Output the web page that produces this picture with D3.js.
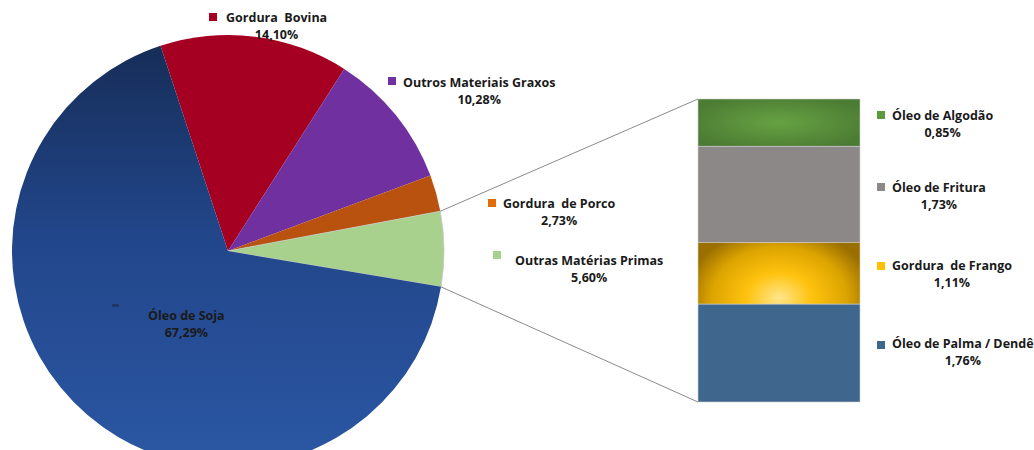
<!DOCTYPE html>
<html>
<head>
<meta charset="utf-8">
<script src="https://cdn.jsdelivr.net/npm/d3@7"></script>
<style>
  body { margin: 0; background: #fff; }
  text { font-family: "Open Sans", Lato, sans-serif; font-weight: bold; font-size: 12.5px; fill: #1a1a1a; white-space: pre; }
</style>
</head>
<body>
<div id="chart-area"></div>
<script>
// pie data, clockwise from Gordura Bovina
var pieNames = ["Gordura  Bovina", "Outros Materiais Graxos", "Gordura  de Porco", "Outras Matérias Primas", "Óleo de Soja"];
var pieValues = [14.10, 10.28, 2.73, 5.60, 67.29];
var pieLabels = ["14,10%", "10,28%", "2,73%", "5,60%", "67,29%"];

// breakdown of "Outras Matérias Primas", top to bottom
var barNames = ["Óleo de Algodão", "Óleo de Fritura", "Gordura  de Frango", "Óleo de Palma / Dendê"];
var barValues = [0.85, 1.73, 1.11, 1.76];
var barLabels = ["0,85%", "1,73%", "1,11%", "1,76%"];

var W = 1034, H = 450;
var cx = 228, cy = 251, R = 216;

var svg = d3.select("#chart-area")
    .append("svg")
    .attr("width", W)
    .attr("height", H);

var defs = svg.append("defs");

function addStops(g, stops) {
    stops.forEach((s) => { g.append("stop").attr("offset", s[0]).attr("stop-color", s[1]); });
}

var lg = defs.append("linearGradient").attr("id", "gSoja")
    .attr("x1", 0).attr("y1", 0).attr("x2", 0).attr("y2", 1);
addStops(lg, [[0, "#162d58"], [0.45, "#22468a"], [1, "#2b57a4"]]);

var rp = defs.append("radialGradient").attr("id", "gPorco")
    .attr("gradientUnits", "userSpaceOnUse")
    .attr("cx", cx).attr("cy", cy).attr("r", R).attr("fx", cx).attr("fy", cy);
addStops(rp, [[0, "#c55a11"], [0.75, "#ea6e15"], [1, "#b8520e"]]);

var ra = defs.append("radialGradient").attr("id", "gAlg")
    .attr("cx", 0.5).attr("cy", 0.5).attr("r", 0.6);
addStops(ra, [[0, "#66a243"], [1, "#4c7b33"]]);

var rf = defs.append("radialGradient").attr("id", "gFrango")
    .attr("cx", 0.5).attr("cy", 0.9).attr("r", 1)
    .attr("gradientTransform", "translate(0.5,0.9) scale(0.58,1.15) translate(-0.5,-0.9)");
addStops(rf, [[0, "#ffe68c"], [0.35, "#ffc20e"], [0.72, "#dca400"], [1, "#9a6f00"]]);

var pieFills = ["#a50021", "#7030a0", "url(#gPorco)", "#a9d18e", "url(#gSoja)"];
var pieMarkers = ["#a50021", "#7030a0", "#e36c0a", "#a9d18e", "#1f3864"];
var barFills = ["url(#gAlg)", "#8c8888", "url(#gFrango)", "#3f668c"];
var barMarkers = ["#5b9a3b", "#8c8888", "#ffc000", "#3f668c"];

var startA = -18.2 * Math.PI / 180;
var pie = d3.pie().sort(null).value((d) => d)
    .startAngle(startA).endAngle(startA + 2 * Math.PI);
var arcs = pie(pieValues);
var arc = d3.arc().innerRadius(0).outerRadius(R);

var g = svg.append("g").attr("transform", "translate(" + cx + "," + cy + ")");
g.selectAll("path").data(arcs).enter()
    .append("path")
    .attr("d", arc)
    .attr("fill", (d, i) => pieFills[i])
    .attr("stroke", (d, i) => i == 3 ? "#c8c8c8" : "none")
    .attr("stroke-width", 0.8);

// stacked bar
var total = d3.sum(barValues);
var cum = d3.cumsum(barValues);
var y = d3.scaleLinear().domain([0, total]).range([99, 402]);
var x = d3.scaleLinear().domain([0, 1]).range([698, 860]);

svg.selectAll(".seg").data(barValues).enter()
    .append("rect")
    .attr("class", "seg")
    .attr("x", x(0))
    .attr("width", x(1) - x(0))
    .attr("y", (d, i) => y(cum[i] - d))
    .attr("height", (d) => y(d) - y(0))
    .attr("fill", (d, i) => barFills[i])
    .attr("stroke", "#d0d0d0")
    .attr("stroke-width", 0.6);

// connector lines from the green slice to the bar
var green = arcs[3];
[[green.startAngle, 0], [green.endAngle, total]].forEach((p) => {
    svg.append("line")
        .attr("x1", cx + R * Math.sin(p[0]))
        .attr("y1", cy - R * Math.cos(p[0]))
        .attr("x2", x(0))
        .attr("y2", y(p[1]))
        .attr("stroke", "#8a8a8a")
        .attr("stroke-width", 1);
});

// labels: [marker x, marker y, text start x, name baseline]
var pieLabelPos = [[209, 13, 226, 22], [388, 77, 403, 87], [488, 199, 503, 208], [493, 251, 515, 265], [112, 304, 148, 320]];
var barLabelPos = [[877, 111, 892, 120], [877, 183, 892, 192], [877, 262, 892, 270], [877, 341, 892, 348]];

function drawLabel(name, val, pos, color, dash) {
    svg.append("rect")
        .attr("x", pos[0]).attr("y", pos[1])
        .attr("width", dash ? 7 : 8).attr("height", dash ? 3 : 8)
        .attr("fill", color);
    var t1 = svg.append("text").attr("x", pos[2]).attr("y", pos[3]).text(name);
    var w = t1.node().getComputedTextLength();
    svg.append("text").attr("text-anchor", "middle")
        .attr("x", pos[2] + w / 2).attr("y", pos[3] + 16.5).text(val);
}

pieNames.forEach((n, i) => drawLabel(n, pieLabels[i], pieLabelPos[i], pieMarkers[i], i == 4));
barNames.forEach((n, i) => drawLabel(n, barLabels[i], barLabelPos[i], barMarkers[i], false));
</script>
</body>
</html>
